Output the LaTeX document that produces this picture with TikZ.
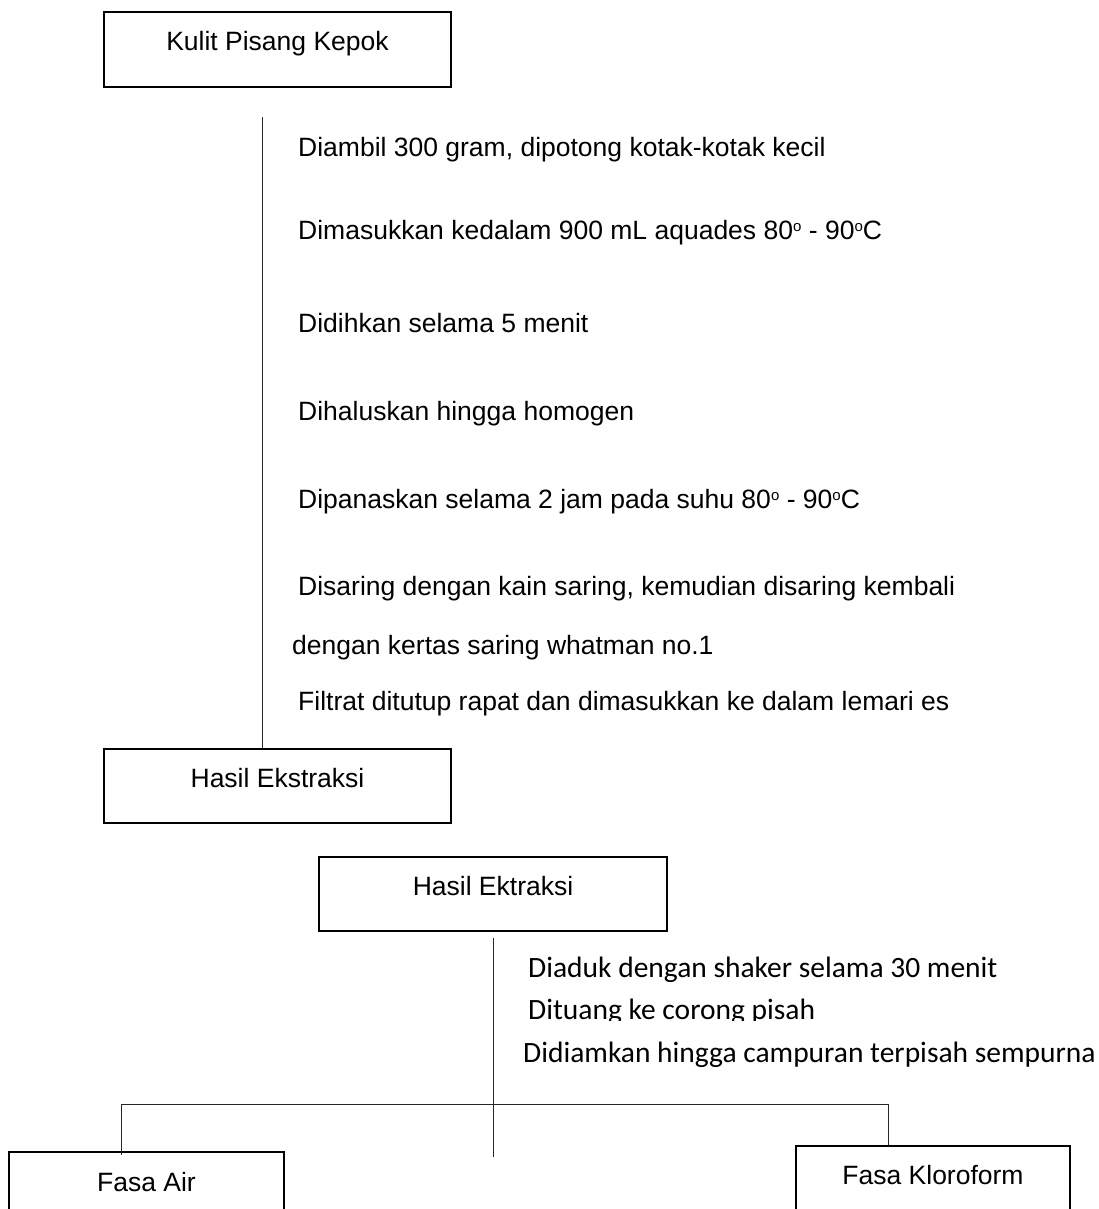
\documentclass[tikz,border=0pt]{standalone}
\usepackage{fontspec}
\setmainfont{Liberation Sans}
\newfontfamily\calfont{Carlito}
\begin{document}
\begin{tikzpicture}[x=1pt,y=-1pt,
  box/.style={draw=black, line width=2pt, rectangle, inner sep=0pt,
    anchor=north west, text height=20pt, text depth=17pt,
    font=\fontsize{26.5}{30}\selectfont},
  stepnote/.style={anchor=base west, inner sep=0pt,
    font=\fontsize{26.5}{30}\selectfont},
  calnote/.style={anchor=base west, inner sep=0pt,
    font=\calfont\fontsize{29.5}{33}\selectfont},
  conn/.style={draw=black!85, line width=1pt}]
\useasboundingbox (0,0) rectangle (1099,1209);
\clip (0,0) rectangle (1099,1209);

% first stage: extraction
\node[box, minimum width=347pt, minimum height=75pt] (kulit) at (103,11) {Kulit Pisang Kepok};
\node[box, minimum width=347pt, minimum height=74pt] (ekstraksi) at (103,748) {Hasil Ekstraksi};
\coordinate (s1) at (262,117);
\draw[conn] (s1) -- (s1 |- ekstraksi.north);

\newcommand{\dg}{\raisebox{0.55ex}{\fontsize{15}{15}\selectfont o}}
\node[stepnote] (t1) at (298,157) {Diambil 300 gram, dipotong kotak-kotak kecil};
\node[stepnote] (t2) at (298,239) {Dimasukkan kedalam 900 mL aquades 80\dg{} - 90\dg C};
\node[stepnote] (t3) at (298,332) {Didihkan selama 5 menit};
\node[stepnote] (t4) at (298,420) {Dihaluskan hingga homogen};
\node[stepnote] (t5) at (298,508) {Dipanaskan selama 2 jam pada suhu 80\dg{} - 90\dg C};
\node[stepnote] (t6) at (298,595) {Disaring dengan kain saring, kemudian disaring kembali};
\node[stepnote] (t7) at (292,654) {dengan kertas saring whatman no.1};
\node[stepnote] (t8) at (298,710) {Filtrat ditutup rapat dan dimasukkan ke dalam lemari es};

% second stage: separation
\node[box, minimum width=348pt, minimum height=74pt] (ektraksi) at (318,856) {Hasil Ektraksi};
\coordinate (s2) at (493,938);
\coordinate (s2end) at (493,1157);
\draw[conn] (s2) -- (s2end);

\begin{scope}
  \clip (500,940) rectangle (1099,981);
  \node[calnote] (u1) at (528,977) {Diaduk dengan shaker selama 30 menit};
\end{scope}
\begin{scope}
  \clip (500,985) rectangle (1099,1020);
  \node[calnote] (u2) at (528,1019) {Dituang ke corong pisah};
\end{scope}
\node[calnote] (u3) at (523,1062) {Didiamkan hingga campuran terpisah sempurna};

\node[box, minimum width=275pt, minimum height=75pt] (air) at (8,1151) {Fasa Air};
\node[box, minimum width=274pt, minimum height=74pt] (kloro) at (795,1145) {Fasa Kloroform};

\coordinate (bl) at (121,1104);
\coordinate (br) at (888,1104);
\draw[conn] (bl) -- (br);
\draw[conn] (bl) -- ([yshift=-4pt]bl |- air.north);
\draw[conn] (br) -- (br |- kloro.north);
\end{tikzpicture}
\end{document}
